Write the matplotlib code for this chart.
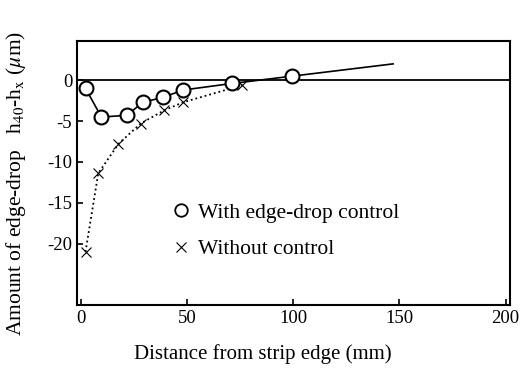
import matplotlib.pyplot as plt
from matplotlib.lines import Line2D

plt.rcParams['font.family'] = ['Liberation Serif', 'DejaVu Serif']
plt.rcParams['mathtext.fontset'] = 'stix'
plt.rcParams['axes.unicode_minus'] = False

# With edge-drop control
x_with = [2, 9.5, 21.5, 29, 38.5, 48, 71, 99.5]
y_with = [-1.0, -4.5, -4.3, -2.7, -2.1, -1.2, -0.4, 0.5]
# trend continuation past the last point
x_with_tail = [99.5, 147]
y_with_tail = [0.5, 2.0]

# Without control
x_without = [2, 8, 17.5, 28, 39, 48, 76]
y_without = [-21.0, -11.4, -7.8, -5.3, -3.7, -2.7, -0.6]

fig = plt.figure(figsize=(5.29, 3.71), dpi=100)
ax = fig.add_axes([0.1456, 0.178, 0.818, 0.7115])

ax.axhline(0, color='black', lw=1.3, zorder=1)
ax.plot(x_without, y_without, ls=':', color='black', lw=1.3,
        marker='x', ms=7, mew=0.8)
ax.plot(x_with, y_with, ls='-', color='black', lw=1.2,
        marker='o', ms=10, mfc='white', mec='black', mew=1.5, zorder=3)
ax.plot(x_with_tail, y_with_tail, ls='-', color='black', lw=1.2, zorder=2)

ax.set_xlim(-2, 202)
ax.set_ylim(-27.5, 4.8)
ax.set_xticks([0, 50, 100, 150, 200])
ax.set_yticks([0, -5, -10, -15, -20])
ax.tick_params(direction='in', length=4, labelsize=13.5, width=1.2)
for s in ax.spines.values():
    s.set_linewidth(1.5)

ax.set_xlabel('Distance from strip edge (mm)', fontsize=15)
ax.xaxis.set_label_coords(0.43, -0.15)
ax.set_ylabel(r'Amount of edge-drop   h$_{\rm 40}$-h$_{\rm x}$ ($\mu$m)',
              fontsize=15.5)
ax.yaxis.set_label_coords(-0.113, 0.46)

handles = [
    Line2D([], [], ls='none', marker='o', ms=9, mfc='white', mec='black', mew=1.3),
    Line2D([], [], ls='none', marker='x', ms=7, mec='black', mew=0.8),
]
labels = ['With edge-drop control', 'Without control']
ax.legend(handles, labels, loc='lower left', bbox_to_anchor=(0.18, 0.1),
          frameon=False, fontsize=15.5, handlelength=0.6, handletextpad=0.5,
          labelspacing=0.75, numpoints=1)

fig.savefig('out.png', dpi=100)
